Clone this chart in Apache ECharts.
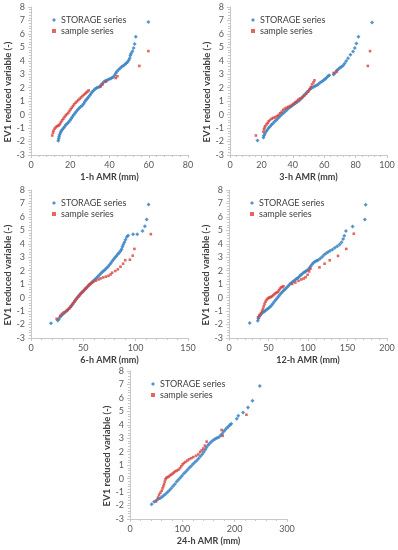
<!DOCTYPE html>
<html>
<head>
<meta charset="utf-8">
<script src="https://cdn.jsdelivr.net/npm/echarts@6/dist/echarts.min.js"></script>
<style>html,body{margin:0;padding:0;background:#fff}#c{width:398px;height:550px}</style>
</head>
<body>
<div id="c"></div>
<script>
// ---- data ----
const xTitles = ['1-h AMR (mm)', '3-h AMR (mm)', '6-h AMR (mm)', '12-h AMR (mm)', '24-h AMR (mm)'];
const xMax = [80, 100, 150, 200, 300];
const xStep = [20, 20, 50, 50, 100];
const yTitle = 'EV1 reduced variable (-)';
const seriesNames = ['STORAGE series', 'sample series'];

const storage1h = [[13.9,-1.95],[14.1,-1.8],[14.3,-1.65],[14.6,-1.5],[15.0,-1.35],[15.4,-1.22],[16.0,-1.1],[16.6,-1.0],[17.2,-0.88],[17.8,-0.76],[18.5,-0.66],[19.2,-0.54],[19.9,-0.42],[20.5,-0.28],[21.1,-0.15],[21.7,-0.03],[22.4,0.1],[23.1,0.24],[23.8,0.37],[24.5,0.47],[25.3,0.58],[26.1,0.68],[26.8,0.8],[27.4,0.95],[28.0,1.08],[28.7,1.2],[29.3,1.32],[30.0,1.45],[30.6,1.58],[31.2,1.7],[31.9,1.8],[32.6,1.9],[33.4,1.98],[34.2,2.03],[35.0,2.08],[35.7,2.2],[36.4,2.32],[37.1,2.43],[37.9,2.52],[38.7,2.56],[39.5,2.62],[40.3,2.67],[41.1,2.73],[41.9,2.8],[42.6,2.92],[43.2,3.08],[43.8,3.2],[44.6,3.34],[45.4,3.45],[46.2,3.55],[47.0,3.63],[47.8,3.73],[48.5,3.82],[49.2,3.92],[49.8,4.05],[50.3,4.2],[50.6,4.4],[51.0,4.55],[51.7,4.72],[52.3,4.95],[52.8,5.25],[53.4,5.78],[59.8,6.88]];
const sample1h = [[10.8,-1.55],[11.2,-1.35],[11.5,-1.2],[12.0,-1.05],[12.6,-0.95],[13.2,-0.87],[13.8,-0.82],[14.3,-0.78],[14.8,-0.68],[15.3,-0.55],[15.9,-0.42],[16.5,-0.3],[17.1,-0.17],[17.7,-0.06],[18.3,0.04],[19.0,0.13],[19.6,0.27],[20.2,0.4],[20.8,0.52],[21.4,0.64],[22.0,0.77],[22.7,0.88],[23.4,0.98],[24.1,1.08],[24.8,1.18],[25.5,1.28],[26.2,1.38],[26.9,1.47],[27.6,1.56],[28.2,1.64],[28.8,1.72],[29.4,1.8],[35.5,2.1],[36.5,2.25],[38.2,2.45],[43.2,2.72],[44.0,2.85],[55.2,3.62],[59.8,4.72]];

const storage3h = [[17.5,-1.92],[21.3,-1.7],[21.6,-1.55],[22.2,-1.42],[23.0,-1.25],[23.8,-1.12],[24.6,-1.0],[25.5,-0.88],[26.4,-0.76],[27.3,-0.65],[28.3,-0.53],[29.3,-0.42],[30.3,-0.3],[31.3,-0.18],[32.3,-0.06],[33.3,0.04],[34.3,0.14],[35.3,0.25],[36.3,0.36],[37.3,0.47],[38.4,0.57],[39.5,0.66],[40.6,0.76],[41.7,0.85],[42.8,0.94],[43.9,1.04],[44.9,1.15],[45.9,1.27],[46.9,1.4],[47.9,1.52],[48.9,1.64],[49.9,1.76],[50.9,1.88],[52.0,1.98],[53.1,2.06],[54.2,2.12],[55.3,2.19],[56.4,2.28],[57.5,2.38],[58.6,2.47],[59.6,2.55],[60.6,2.65],[61.5,2.75],[62.4,2.85],[63.2,2.92],[66.0,2.98],[67.0,3.12],[68.0,3.28],[69.0,3.38],[70.0,3.48],[71.0,3.56],[72.0,3.65],[73.0,3.8],[74.0,3.98],[75.2,4.2],[76.7,4.45],[78.4,4.7],[79.5,4.95],[80.5,5.28],[81.8,5.78],[90.5,6.85]];
const sample3h = [[16.5,-1.55],[21.3,-1.28],[21.6,-1.1],[22.0,-0.96],[22.5,-0.85],[23.3,-0.72],[24.0,-0.62],[24.6,-0.5],[25.5,-0.4],[26.5,-0.3],[27.6,-0.24],[28.7,-0.2],[29.8,-0.12],[30.9,-0.02],[31.9,0.1],[32.9,0.22],[33.9,0.36],[35.0,0.45],[36.1,0.52],[37.2,0.58],[38.3,0.64],[39.4,0.72],[40.5,0.82],[41.6,0.92],[42.6,1.02],[43.6,1.12],[44.6,1.2],[46.0,1.28],[47.2,1.4],[48.5,1.55],[49.8,1.72],[50.8,1.9],[51.5,2.05],[52.3,2.25],[53.2,2.4],[53.8,2.55],[66.0,3.1],[68.0,3.2],[87.8,3.62],[89.2,4.72]];

const storage6h = [[19.1,-1.9],[25.5,-1.7],[26.5,-1.6],[27.5,-1.45],[28.8,-1.35],[30.2,-1.25],[31.6,-1.14],[33.0,-1.04],[34.4,-0.95],[35.8,-0.84],[37.2,-0.74],[38.5,-0.62],[39.7,-0.5],[40.9,-0.36],[42.1,-0.22],[43.4,-0.08],[44.7,0.04],[46.0,0.16],[47.3,0.28],[48.6,0.39],[49.9,0.49],[51.3,0.6],[52.7,0.71],[54.1,0.82],[55.5,0.93],[56.9,1.04],[58.3,1.14],[59.7,1.25],[61.1,1.35],[62.5,1.46],[63.9,1.57],[65.3,1.68],[66.7,1.79],[68.1,1.9],[69.5,2.0],[70.9,2.1],[72.3,2.2],[73.7,2.32],[75.1,2.44],[76.4,2.58],[77.7,2.72],[79.0,2.86],[80.3,2.98],[81.6,3.1],[82.9,3.22],[84.2,3.34],[85.5,3.46],[86.5,3.6],[87.3,3.78],[88.2,3.95],[89.2,4.12],[90.3,4.3],[91.5,4.5],[92.8,4.62],[97.5,4.72],[101.5,4.72],[106.5,4.95],[108.8,5.3],[110.5,5.8],[112.3,6.92]];
const sample6h = [[24.5,-1.57],[28.0,-1.35],[29.5,-1.2],[31.5,-1.1],[33.5,-1.0],[35.0,-0.92],[36.5,-0.8],[37.8,-0.68],[39.0,-0.55],[40.2,-0.42],[41.4,-0.3],[42.6,-0.18],[43.8,-0.06],[45.0,0.05],[46.2,0.16],[47.4,0.27],[48.6,0.37],[49.8,0.47],[51.0,0.57],[52.2,0.67],[53.4,0.77],[54.6,0.87],[55.8,0.96],[57.0,1.05],[58.3,1.12],[59.6,1.18],[62.0,1.26],[64.5,1.35],[66.5,1.43],[69.0,1.5],[71.5,1.56],[74.0,1.62],[76.0,1.72],[77.5,1.85],[80.5,1.98],[83.0,2.1],[85.5,2.3],[88.0,2.52],[90.0,2.78],[94.5,2.82],[97.2,3.12],[98.8,3.62],[114.5,4.72]];

const storage12h = [[26.2,-1.88],[36.5,-1.72],[37.3,-1.55],[38.2,-1.42],[39.5,-1.3],[41.0,-1.2],[42.8,-1.1],[44.6,-1.03],[46.4,-0.95],[48.2,-0.87],[50.0,-0.79],[51.8,-0.69],[53.6,-0.58],[55.4,-0.45],[57.2,-0.3],[59.0,-0.17],[60.8,-0.05],[62.6,0.08],[64.4,0.21],[66.2,0.34],[68.0,0.45],[69.8,0.56],[71.6,0.66],[73.4,0.77],[75.2,0.88],[77.0,0.99],[78.8,1.09],[80.6,1.18],[82.4,1.26],[84.2,1.34],[86.0,1.42],[87.8,1.5],[89.6,1.6],[91.4,1.7],[93.2,1.8],[95.0,1.88],[96.8,1.95],[98.6,2.02],[100.4,2.1],[102.0,2.22],[103.6,2.35],[105.2,2.48],[107.0,2.6],[109.0,2.68],[111.0,2.74],[113.0,2.8],[115.5,2.9],[118.0,3.04],[120.5,3.18],[123.0,3.3],[125.5,3.4],[128.0,3.48],[131.0,3.58],[134.0,3.7],[137.0,3.82],[140.0,3.95],[142.5,4.12],[144.5,4.35],[146.0,4.6],[148.0,4.95],[156.5,5.28],[172.0,5.8],[173.0,6.9]];
const sample12h = [[36.8,-1.45],[38.5,-1.3],[40.5,-1.15],[42.0,-0.98],[43.0,-0.82],[44.0,-0.64],[45.0,-0.46],[46.2,-0.3],[47.4,-0.18],[48.8,-0.08],[50.2,-0.02],[51.6,0.02],[53.0,0.05],[54.5,0.1],[56.0,0.18],[57.5,0.26],[59.0,0.33],[60.5,0.38],[62.0,0.43],[63.3,0.55],[64.5,0.67],[66.0,0.76],[67.5,0.8],[69.0,0.85],[80.0,1.02],[84.0,1.12],[88.0,1.25],[91.5,1.35],[94.5,1.42],[97.0,1.52],[99.5,1.7],[101.5,1.95],[103.0,2.15],[114.5,2.25],[121.0,2.52],[127.5,2.78],[138.0,3.1],[148.5,3.62],[158.0,4.75]];

const storage24h = [[41.3,-1.9],[46.0,-1.72],[50.5,-1.6],[54.0,-1.52],[57.5,-1.45],[61.0,-1.36],[64.5,-1.26],[68.0,-1.14],[71.5,-1.02],[75.0,-0.88],[78.5,-0.73],[82.0,-0.57],[85.5,-0.41],[89.0,-0.24],[92.5,-0.08],[96.0,0.07],[99.5,0.22],[103.0,0.38],[106.5,0.52],[110.0,0.66],[113.5,0.8],[117.0,0.94],[120.5,1.08],[124.0,1.21],[127.5,1.35],[131.0,1.5],[134.5,1.66],[138.0,1.82],[141.0,1.98],[143.5,2.15],[146.0,2.32],[149.0,2.48],[152.0,2.62],[155.5,2.74],[159.0,2.86],[162.5,2.94],[166.0,3.02],[169.5,3.08],[173.0,3.2],[176.0,3.34],[179.0,3.5],[182.0,3.64],[185.0,3.76],[188.0,3.88],[191.0,3.98],[193.5,4.08],[204.0,4.45],[207.0,4.68],[216.0,4.92],[225.5,5.28],[234.0,5.78],[248.0,6.88]];
const sample24h = [[49.6,-1.7],[53.5,-1.4],[55.5,-1.2],[58.0,-1.05],[60.5,-0.9],[62.2,-0.72],[63.8,-0.56],[65.2,-0.4],[66.5,-0.22],[67.8,-0.05],[69.2,0.05],[71.5,0.1],[74.0,0.16],[76.5,0.24],[79.0,0.3],[81.5,0.38],[84.0,0.46],[86.5,0.54],[89.5,0.6],[92.5,0.66],[95.5,0.78],[98.0,0.92],[100.5,1.06],[103.0,1.16],[106.0,1.24],[109.5,1.34],[113.0,1.44],[117.0,1.52],[121.0,1.6],[126.0,1.7],[130.5,1.8],[134.0,1.98],[137.0,2.1],[140.0,2.24],[143.0,2.45],[146.5,2.75],[175.0,3.62],[177.0,3.18],[222.5,4.75]];

const storageSets = [storage1h, storage3h, storage6h, storage12h, storage24h];
const sampleSets = [sample1h, sample3h, sample6h, sample12h, sample24h];

// ---- layout / style ----
const FONT = 'Lato';
const BLUE = '#2b7bbf';
const RED = '#d9413c';
const AX = '#c8c8c8';
const grids = [
  {left: 31, top: 7, width: 157, height: 148},
  {left: 230, top: 7, width: 157, height: 148},
  {left: 31, top: 190, width: 157, height: 148},
  {left: 229, top: 190, width: 158, height: 148},
  {left: 130, top: 371, width: 157, height: 148}
];

const option = {
  animation: false,
  grid: grids.map(g => Object.assign({containLabel: false}, g)),
  legend: grids.map(g => ({
    orient: 'vertical', left: g.left + 16, top: g.top + 3,
    data: seriesNames, itemWidth: 4, itemHeight: 4, itemGap: 1,
    textStyle: {fontFamily: FONT, fontSize: 9, color: '#404040', lineHeight: 10},
    selectedMode: false
  })),
  xAxis: grids.map((g, i) => ({
    gridIndex: i, type: 'value', min: 0, max: xMax[i], interval: xStep[i],
    name: xTitles[i], nameLocation: 'middle', nameGap: 18,
    nameTextStyle: {fontFamily: FONT, fontSize: 9, fontWeight: 'bold', color: '#404040'},
    axisLine: {show: true, onZero: false, lineStyle: {color: AX, width: 1}},
    axisTick: {show: true, length: 3, inside: false, lineStyle: {color: AX}},
    minorTick: {show: true, splitNumber: 5, length: 2, lineStyle: {color: AX}},
    axisLabel: {fontFamily: FONT, fontSize: 9, color: '#595959', margin: 6},
    splitLine: {show: false}
  })),
  yAxis: grids.map((g, i) => ({
    gridIndex: i, type: 'value', min: -3, max: 8, interval: 1,
    name: yTitle, nameLocation: 'middle', nameGap: 17, nameRotate: 90,
    nameTextStyle: {fontFamily: FONT, fontSize: 9.5, fontWeight: 'bold', color: '#404040', padding: [0, 22, 0, 0]},
    axisLine: {show: true, onZero: false, lineStyle: {color: AX, width: 1}},
    axisTick: {show: true, length: 3, lineStyle: {color: AX}},
    minorTick: {show: true, splitNumber: 5, length: 2, lineStyle: {color: AX}},
    axisLabel: {fontFamily: FONT, fontSize: 9, color: '#595959', margin: 6},
    splitLine: {show: false}
  })),
  series: []
};
grids.forEach((g, i) => {
  option.series.push({
    name: seriesNames[0], type: 'scatter', xAxisIndex: i, yAxisIndex: i,
    data: storageSets[i], symbol: 'diamond', symbolSize: 4,
    itemStyle: {color: BLUE}
  });
  option.series.push({
    name: seriesNames[1], type: 'scatter', xAxisIndex: i, yAxisIndex: i,
    data: sampleSets[i], symbol: 'rect', symbolSize: 2.6,
    itemStyle: {color: RED}
  });
});

const chart = echarts.init(document.getElementById('c'), null, {renderer: 'canvas'});
chart.setOption(option);
</script>
</body>
</html>
